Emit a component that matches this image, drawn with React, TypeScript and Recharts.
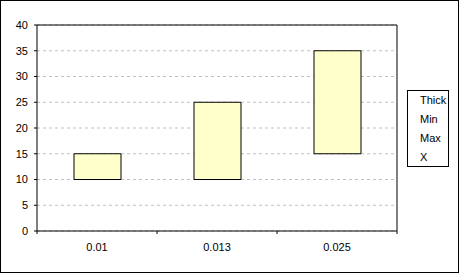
import React from 'react';
import { BarChart, Bar, XAxis, YAxis, CartesianGrid, ReferenceLine } from 'recharts';

const categories = ['0.01', '0.013', '0.025'];
const minValues = [10, 10, 15];
const maxValues = [15, 25, 35];
const yTicks = [0, 5, 10, 15, 20, 25, 30, 35, 40];
const legendNames = ['Thick', 'Min', 'Max', 'X'];

const data = categories.map((name, i) => ({
  name,
  min: minValues[i],
  thick: maxValues[i] - minValues[i],
}));

const FONT = '"Liberation Sans", Arial, sans-serif';

// category label plus the little tick marks on the band edges
const CategoryTick = (props: any) => {
  const { x, y, payload, index, visibleTicksCount, width } = props;
  const half = payload && payload.offset ? payload.offset : width / visibleTicksCount / 2;
  return (
    <g>
      <line x1={x - half} x2={x - half} y1={y} y2={y + 3} stroke="#000" />
      {index === visibleTicksCount - 1 && (
        <line x1={x + half} x2={x + half} y1={y} y2={y + 3} stroke="#000" />
      )}
      <text x={x} y={y + 20} textAnchor="middle" fontSize={11} fontFamily={FONT} fill="#000">
        {payload.value}
      </text>
    </g>
  );
};

export default function App() {
  return (
    <div
      style={{
        position: 'absolute',
        left: 0,
        top: 0,
        width: 459,
        height: 273,
        border: '1px solid #000',
        boxSizing: 'border-box',
        background: '#fff',
        fontFamily: FONT,
      }}
    >
      <BarChart
        width={457}
        height={271}
        data={data}
        margin={{ top: 24, right: 61, bottom: 11, left: 0 }}
        barSize={47}
      >
        <CartesianGrid horizontal vertical={false} stroke="#c0c0c0" strokeDasharray="3 3" />
        <XAxis
          dataKey="name"
          height={30}
          tickLine={false}
          tickSize={0}
          tickMargin={0}
          axisLine={{ stroke: '#000' }}
          tick={<CategoryTick />}
          interval={0}
        />
        <YAxis
          width={36}
          domain={[0, 40]}
          ticks={yTicks}
          interval={0}
          tickSize={3}
          tickMargin={6}
          axisLine={{ stroke: '#000' }}
          tickLine={{ stroke: '#000' }}
          tick={{ fontSize: 11, fill: '#000', fontFamily: FONT }}
        />
        <ReferenceLine y={40} stroke="#000" />
        <ReferenceLine x="0.025" position="end" stroke="#000" />
        <Bar dataKey="min" stackId="a" fill="none" stroke="none" isAnimationActive={false} />
        <Bar dataKey="thick" stackId="a" fill="#FFFFCC" stroke="#000" isAnimationActive={false} />
      </BarChart>
      <div
        style={{
          position: 'absolute',
          left: 406,
          top: 89,
          border: '1px solid #000',
          width: 42,
          height: 77,
          boxSizing: 'border-box',
          background: '#fff',
          fontSize: 11,
          lineHeight: '19px',
          paddingLeft: 12,
          whiteSpace: 'nowrap',
        }}
      >
        {legendNames.map((n) => (
          <div key={n}>{n}</div>
        ))}
      </div>
    </div>
  );
}
